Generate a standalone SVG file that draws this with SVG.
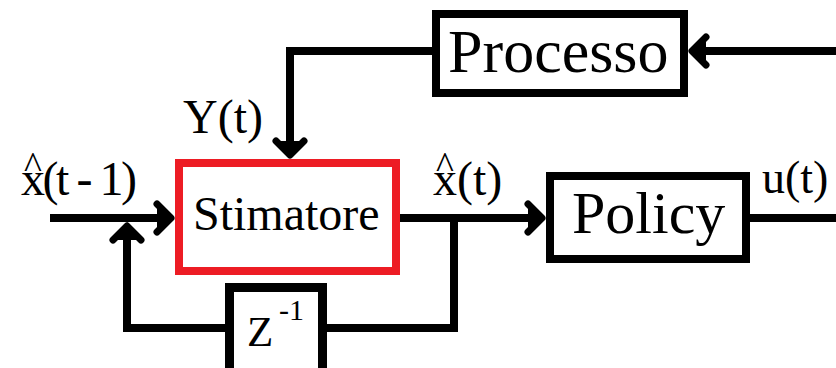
<svg xmlns="http://www.w3.org/2000/svg" width="836" height="368" viewBox="0 0 836 368">
  <rect width="836" height="368" fill="#fff"/>

  <g id="connectors" fill="none" stroke="#000" stroke-width="8">
    <!-- plant output to estimator -->
    <polyline points="432,51 290,51 290,152"/>
    <!-- control signal into the plant -->
    <line x1="836" y1="51" x2="694" y2="51"/>
    <!-- previous estimate into the estimator -->
    <line x1="50" y1="218" x2="168" y2="218"/>
    <!-- estimate to policy -->
    <line x1="400" y1="218" x2="539" y2="218"/>
    <!-- policy output -->
    <line x1="750" y1="218" x2="836" y2="218"/>
    <!-- delay feedback loop -->
    <polyline points="454,218 454,328 327,328"/>
    <polyline points="225,328 127,328 127,228"/>
    <!-- barbed arrowheads, drawn pointing right with the tip at the origin -->
    <g fill="#000" stroke-width="7" stroke-linecap="round" stroke-linejoin="round">
      <path transform="translate(688,51) rotate(180)" d="M-18,-14 L-4,0 L-18,14 M-4,0 L-12,-5 L-12,5 Z"/>
      <path transform="translate(290,159) rotate(90)" d="M-18,-14 L-4,0 L-18,14 M-4,0 L-12,-5 L-12,5 Z"/>
      <path transform="translate(175,218)" d="M-18,-14 L-4,0 L-18,14 M-4,0 L-12,-5 L-12,5 Z"/>
      <path transform="translate(127,222) rotate(-90)" d="M-18,-14 L-4,0 L-18,14 M-4,0 L-12,-5 L-12,5 Z"/>
      <path transform="translate(546,218)" d="M-18,-14 L-4,0 L-18,14 M-4,0 L-12,-5 L-12,5 Z"/>
    </g>
  </g>

  <g id="processo">
    <rect x="436" y="14" width="248" height="79" fill="#fff" stroke="#000" stroke-width="8"/>
    <text x="448" y="72" font-size="62" font-family="Liberation Serif">Processo</text>
  </g>

  <g id="stimatore">
    <rect x="179" y="163" width="217" height="108" fill="#fff" stroke="#ED1C24" stroke-width="8"/>
    <text x="193" y="230" font-size="48" font-family="Liberation Serif">Stimatore</text>
  </g>

  <g id="policy">
    <rect x="550" y="176" width="196" height="83" fill="#fff" stroke="#000" stroke-width="8"/>
    <text x="572" y="233" font-size="60" font-family="Liberation Serif">Policy</text>
  </g>

  <g id="delay">
    <rect x="229.5" y="287.5" width="93" height="90" fill="#fff" stroke="#000" stroke-width="9"/>
    <text x="247" y="346" font-size="43" font-family="Liberation Serif">Z<tspan x="279" y="320" font-size="30">-1</tspan></text>
  </g>

  <g id="labels">
    <text x="183" y="133" font-size="48" font-family="Liberation Serif">Y(t)</text>
    <!-- estimate labels, hat set as its own glyph above the x -->
    <text font-size="48" font-family="Liberation Serif"><tspan x="33" y="178" font-size="38" text-anchor="middle">^</tspan><tspan x="21" y="195" textLength="116" lengthAdjust="spacing">x(t - 1)</tspan></text>
    <text font-size="48" font-family="Liberation Serif"><tspan x="445" y="178" font-size="38" text-anchor="middle">^</tspan><tspan x="433" y="195">x(t)</tspan></text>
    <text x="762" y="193" font-size="46" font-family="Liberation Serif">u(t)</text>
  </g>
</svg>
